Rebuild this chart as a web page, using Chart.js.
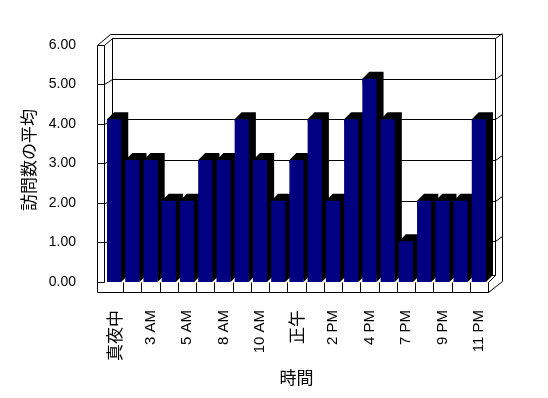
<!DOCTYPE html>
<html lang="ja">
<head>
<meta charset="UTF-8">
<title>訪問数の平均</title>
<script src="https://cdn.jsdelivr.net/npm/chart.js"></script>
<style>
    body { margin: 0; background: #fff; }
</style>
</head>
<body>
<canvas id="grafico" width="548" height="398"></canvas>
<script>
    // categorias (so metade dos rotulos aparece no eixo)
    var horas = ['真夜中', '1 AM', '3 AM', '4 AM', '5 AM', '6 AM', '8 AM', '9 AM', '10 AM', '11 AM', '正午',
        '1 PM', '2 PM', '3 PM', '4 PM', '5 PM', '7 PM', '8 PM', '9 PM', '10 PM', '11 PM'];
    var visitas = [4, 3, 3, 2, 2, 3, 3, 4, 3, 2, 3, 4, 2, 4, 5, 4, 1, 2, 2, 2, 4];
    var ticksY = [0, 1, 2, 3, 4, 5, 6];

    var fonteJP = 'Noto Sans CJK JP';
    var fonteNum = 'Liberation Sans';

    // paredes, piso e profundidade das barras
    var moldura3d = {
        id: 'moldura3d',
        beforeDatasetsDraw: function (chart) {
            var ctx = chart.ctx;
            var x = chart.scales.x, y = chart.scales.y, yl = chart.scales.yl;
            var L = x.left, R = x.right, T = y.top, B = y.bottom;
            var d = 7, w = (R - L) / horas.length;
            function p(v) { return Math.round(v) + 0.5; }
            function seg(x1, y1, x2, y2) { ctx.moveTo(p(x1), p(y1)); ctx.lineTo(p(x2), p(y2)); }

            ctx.save();
            ctx.strokeStyle = '#000';
            ctx.lineWidth = 1;
            ctx.beginPath();
            // parede do fundo
            ticksY.forEach(function (v) {
                if (v > 0) {
                    var g = y.getPixelForValue(v);
                    seg(L + d, g, R + d, g);
                    seg(R + d, g, R + 2 * d, g - 5);
                }
            });
            seg(L + d, T, L + d, B - d);
            seg(R + d, T, R + d, B - d);
            seg(L + d - 2, T - 4, R + 2 * d, T - 4);
            seg(R + 2 * d, T - 4, R + 2 * d, B - 1);
            // parede esquerda
            var f6 = yl.getPixelForValue(6);
            seg(L - 8, f6, L - 8, B + 10);
            seg(L - 1, f6, L - 1, B);
            seg(L - 8, f6, L + d - 2, T - 4);
            ticksY.forEach(function (v) {
                var f = yl.getPixelForValue(v);
                seg(L - 8, f, L - 1, f);
                if (v > 0) seg(L - 1, f, L + d, y.getPixelForValue(v));
            });
            // piso
            seg(L - 8, B + 10, R, B + 10);
            seg(R, B, R, B + 10);
            seg(R, B + 10, R + 2 * d, B - 1);
            seg(R, B, R + d, B - d);
            seg(L + d, B - d, R + d, B - d);
            for (var i = 1; i < horas.length; i++) seg(L + i * w, B, L + i * w, B + 10);
            ctx.stroke();

            // topo e lado das barras
            ctx.fillStyle = '#000';
            chart.getDatasetMeta(0).data.forEach(function (bar) {
                var esq = bar.x - bar.width / 2, dir = bar.x + bar.width / 2;
                ctx.beginPath();
                ctx.moveTo(esq, bar.y);
                ctx.lineTo(esq + d, bar.y - d);
                ctx.lineTo(dir + d, bar.y - d);
                ctx.lineTo(dir + d, bar.base - d);
                ctx.lineTo(dir, bar.base);
                ctx.closePath();
                ctx.fill();
            });
            ctx.restore();
        }
    };

    new Chart(document.getElementById('grafico'), {
        type: 'bar',
        data: {
            labels: horas,
            datasets: [{
                data: visitas,
                backgroundColor: '#000080',
                borderWidth: 0,
                categoryPercentage: 1,
                barPercentage: 0.78,
                yAxisID: 'y'
            }]
        },
        options: {
            responsive: false,
            animation: false,
            layout: { padding: { top: 38, right: 60, left: 0, bottom: 0 } },
            plugins: {
                legend: { display: false },
                tooltip: { enabled: false }
            },
            scales: {
                x: {
                    grid: { display: false },
                    border: { display: false },
                    ticks: {
                        color: '#000',
                        autoSkip: false,
                        minRotation: 90,
                        maxRotation: 90,
                        padding: 20,
                        font: function (c) {
                            return /[\u3000-\u9fff]/.test(horas[c.index])
                                ? { family: fonteJP, size: 17 }
                                : { family: fonteNum, size: 15 };
                        },
                        callback: function (v, i) { return i % 2 == 0 ? horas[i] : ''; }
                    },
                    title: {
                        display: true,
                        text: '時間',
                        color: '#000',
                        font: { family: fonteJP, size: 17 },
                        padding: { top: 0, bottom: 10 }
                    },
                    afterFit: function (s) { s.height = 116; }
                },
                y: {
                    display: false,
                    min: 0,
                    max: 6
                },
                yl: {
                    position: 'left',
                    min: 0,
                    max: 6.177,
                    grid: { display: false },
                    border: { display: false },
                    afterBuildTicks: function (s) {
                        s.ticks = ticksY.map(function (v) { return { value: v }; });
                    },
                    ticks: {
                        color: '#000',
                        padding: 21,
                        font: { family: fonteNum, size: 14 },
                        callback: function (v) { return Number(v).toFixed(2); }
                    },
                    title: {
                        display: true,
                        text: '訪問数の平均',
                        color: '#000',
                        font: { family: fonteJP, size: 17 },
                        padding: { top: 18, bottom: 0 }
                    },
                    afterFit: function (s) { s.width = 105; }
                }
            }
        },
        plugins: [moldura3d]
    });
</script>
</body>
</html>
